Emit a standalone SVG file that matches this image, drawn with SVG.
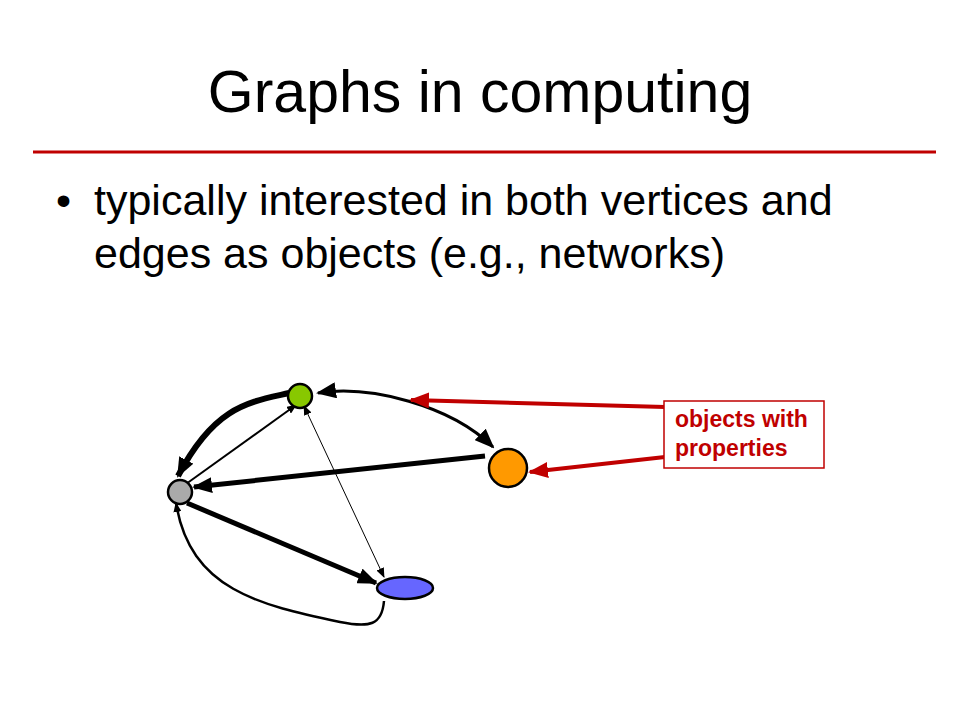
<svg xmlns="http://www.w3.org/2000/svg" width="960" height="720" viewBox="0 0 960 720">
<defs>
<style>
text{font-family:"Liberation Sans",Arial,sans-serif;fill:#000}
.e{fill:none;stroke:#000}
.n{stroke:#000;stroke-width:2.5}
</style>
<marker id="b" viewBox="0 0 10 10" refX="9" refY="5" markerWidth="20" markerHeight="16" orient="auto-start-reverse" markerUnits="userSpaceOnUse" preserveAspectRatio="none"><path d="M0,0L10,5L0,10z" fill="#000"/></marker>
<marker id="s" viewBox="0 0 10 10" refX="9" refY="5" markerWidth="10" markerHeight="8" orient="auto-start-reverse" markerUnits="userSpaceOnUse" preserveAspectRatio="none"><path d="M0,0L10,5L0,10z" fill="#000"/></marker>
<marker id="r" viewBox="0 0 10 10" refX="9" refY="5" markerWidth="20" markerHeight="16" orient="auto" markerUnits="userSpaceOnUse" preserveAspectRatio="none"><path d="M0,0L10,5L0,10z" fill="#c00000"/></marker>
</defs>
<rect width="960" height="720" fill="#fff"/>
<text x="480" y="112" font-size="59" text-anchor="middle">Graphs in computing</text>
<line x1="33" y1="152" x2="936" y2="152" stroke="#c00000" stroke-width="3"/>
<text x="56" y="215" font-size="43">•</text>
<text x="94" y="215" font-size="43">typically interested in both vertices and</text>
<text x="94" y="268" font-size="43">edges as objects (e.g., networks)</text>
<g id="connectors">
<path class="e" stroke-width="6" d="M289,393 C250,402 215,405 178,476" marker-end="url(#b)"/>
<path class="e" stroke-width="2" d="M186,484 L296,405" marker-end="url(#s)"/>
<path class="e" stroke-width="3" d="M318,393 C370,385 450,405 493,447" marker-start="url(#b)" marker-end="url(#b)"/>
<path class="e" stroke-width="5" d="M485,456 L194,487" marker-end="url(#b)"/>
<path class="e" stroke-width="5" d="M187,503 L376,583" marker-end="url(#b)"/>
<path class="e" stroke-width="1" d="M304,406 L384,577" marker-start="url(#s)" marker-end="url(#s)"/>
<path class="e" stroke-width="2.5" d="M384,601 C382,625 370,628 340,622 C260,605 190,590 176,503" marker-end="url(#s)"/>
<path fill="none" stroke="#c00000" stroke-width="4" d="M665,407 L411,400" marker-end="url(#r)"/>
<path fill="none" stroke="#c00000" stroke-width="4" d="M665,457 L530,472" marker-end="url(#r)"/>
</g>
<g id="green"><circle class="n" cx="300" cy="396" r="12" fill="#88c800"/></g>
<g id="gray"><circle class="n" cx="180" cy="492" r="12" fill="#aaa"/></g>
<g id="orange"><circle class="n" cx="508" cy="468" r="19" fill="#ff9900"/></g>
<g id="blue"><ellipse class="n" cx="405" cy="588" rx="28" ry="11" fill="#6666ff"/></g>
<g id="label">
<rect x="664" y="401" width="160" height="67" fill="#fff" stroke="#c00000" stroke-width="1.5"/>
<text x="675" y="427" font-size="23" font-weight="bold" style="fill:#c00000">objects with</text>
<text x="675" y="456" font-size="23" font-weight="bold" style="fill:#c00000">properties</text>
</g>
</svg>
